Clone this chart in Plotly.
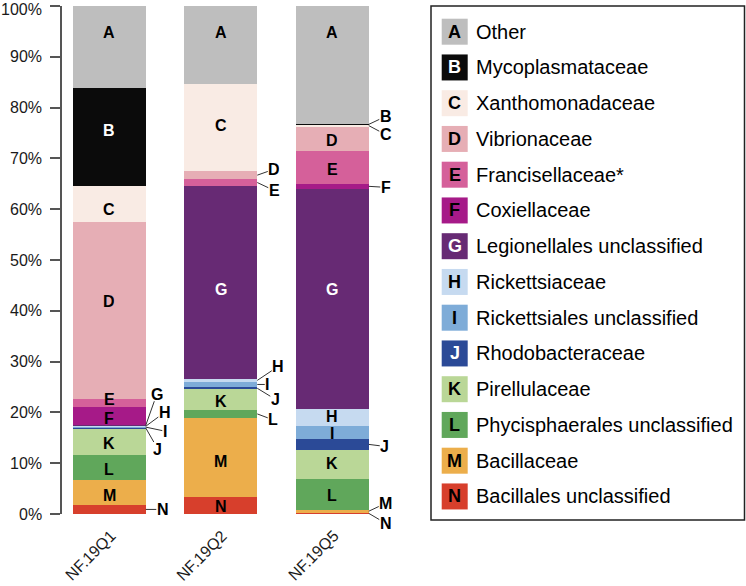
import plotly.graph_objects as go

# ---------------- data ----------------
samples = ["NF.19Q1", "NF.19Q2", "NF.19Q5"]
codes = ["A", "B", "C", "D", "E", "F", "G", "H", "I", "J", "K", "L", "M", "N"]
names = ["Other", "Mycoplasmataceae", "Xanthomonadaceae", "Vibrionaceae",
         "Francisellaceae*", "Coxiellaceae", "Legionellales unclassified",
         "Rickettsiaceae", "Rickettsiales unclassified", "Rhodobacteraceae",
         "Pirellulaceae", "Phycisphaerales unclassified", "Bacillaceae",
         "Bacillales unclassified"]
y_ticks = [0, 10, 20, 30, 40, 50, 60, 70, 80, 90, 100]
y_tick_labels = ["0%", "10%", "20%", "30%", "40%", "50%", "60%", "70%",
                 "80%", "90%", "100%"]

other = [16.1, 15.35, 23.2]
mycoplasmataceae = [19.3, 0.0, 0.2]
xanthomonadaceae = [7.2, 17.1, 0.3]
vibrionaceae = [34.7, 1.7, 4.9]
francisellaceae = [1.6, 1.2, 6.4]
coxiellaceae = [3.5, 0.0, 1.0]
legionellales_uncl = [0.25, 38.1, 43.3]
rickettsiaceae = [0.15, 0.5, 3.3]
rickettsiales_uncl = [0.2, 1.1, 2.6]
rhodobacteraceae = [0.15, 0.4, 2.2]
pirellulaceae = [5.25, 4.1, 5.65]
phycisphaerales_uncl = [5.0, 1.5, 6.1]
bacillaceae = [4.8, 15.6, 0.6]
bacillales_uncl = [1.8, 3.35, 0.25]

series = [other, mycoplasmataceae, xanthomonadaceae, vibrionaceae,
          francisellaceae, coxiellaceae, legionellales_uncl, rickettsiaceae,
          rickettsiales_uncl, rhodobacteraceae, pirellulaceae,
          phycisphaerales_uncl, bacillaceae, bacillales_uncl]

colors = ["#BEBEBE", "#0B0B0B", "#F9EBE4", "#E6AEB5", "#D5609A", "#A61A88",
          "#672A74", "#C6DAF0", "#7EACD8", "#2B4A97", "#BAD797", "#60A75B",
          "#ECAE4B", "#D73F2C"]
white_letter = {"B", "G", "J"}

# label positions inside bars (sample index, code, y in %)
inner_labels = [
    (0, "A", 94.7), (0, "B", 75.5), (0, "C", 59.9), (0, "D", 41.8),
    (0, "E", 22.5), (0, "F", 18.8), (0, "K", 13.8), (0, "L", 8.7), (0, "M", 3.6),
    (1, "A", 94.7), (1, "C", 76.4), (1, "G", 44.2), (1, "K", 22.2),
    (1, "M", 10.4), (1, "N", 1.5),
    (2, "A", 94.7), (2, "D", 73.5), (2, "E", 67.8), (2, "G", 44.2),
    (2, "H", 19.2), (2, "I", 15.9), (2, "K", 9.9), (2, "L", 3.7),
]
# callout labels (sample index, code, text offset x px, offset y px)
callouts = [
    (0, "G", 11, -31), (0, "H", 19, -14), (0, "I", 19, 4), (0, "J", 12, 21),
    (0, "N", 17, 0),
    (1, "D", 17, -6), (1, "E", 17, 8), (1, "H", 21, -14), (1, "I", 10, 0),
    (1, "J", 18, 11), (1, "L", 16, 6),
    (2, "B", 17, -8), (2, "C", 17, 9), (2, "F", 17, 1), (2, "J", 16, 2),
    (2, "M", 17, -8), (2, "N", 17, 10),
]

FONT = "Liberation Sans, Arial, Helvetica, sans-serif"
BAR_W = 0.655
xpos = list(range(len(samples)))

fig = go.Figure()
# stack from the bottom (N) to the top (A)
for k in reversed(range(len(codes))):
    fig.add_trace(go.Bar(
        x=xpos, y=series[k], name=names[k], width=BAR_W,
        marker=dict(color=colors[k], line=dict(width=0)),
        showlegend=False, hoverinfo="name+y"))

# cumulative bottoms for each segment
bottoms = {}
for s in xpos:
    acc = 0.0
    for k in reversed(range(len(codes))):
        bottoms[(s, codes[k])] = acc
        acc += series[k][s]

L_MARGIN, T_MARGIN, PW, PH = 62, 6, 684, 508


def px_x(px):
    return (px - L_MARGIN) / PW


def px_y(py):
    return (T_MARGIN + PH - py) / PH


annotations = []
# y tick labels (drawn as text so the top one stays inside the page)
for v, lab in zip(y_ticks, y_tick_labels):
    annotations.append(dict(
        x=px_x(42.5), y=v, xref="paper", yref="y", text=lab, showarrow=False,
        xanchor="right", yanchor="middle", borderpad=0,
        yshift=-3 if v == 100 else 0,
        font=dict(family=FONT, size=16, color="#1a1a1a")))

for s, c, yv in inner_labels:
    annotations.append(dict(
        x=s, y=yv, xref="x", yref="y", text="<b>%s</b>" % c, showarrow=False,
        height=13, valign="middle", borderpad=0,
        font=dict(family=FONT, size=16,
                  color="white" if c in ("B", "G") else "black")))

for s, c, dx, dy in callouts:
    k = codes.index(c)
    mid = bottoms[(s, c)] + series[k][s] / 2.0
    annotations.append(dict(
        x=s + BAR_W / 2, y=mid, xref="x", yref="y", text="<b>%s</b>" % c,
        showarrow=True, arrowhead=0, arrowwidth=1, arrowcolor="#333333",
        ax=dx, ay=dy, standoff=0, borderpad=0, height=13, valign="middle",
        font=dict(family=FONT, size=16, color="black")))

# sample names, rotated under the bars
for s, name in zip(xpos, samples):
    annotations.append(dict(
        x=s, y=px_y(555.5), xref="x", yref="paper", text=name,
        showarrow=False, textangle=-45, xanchor="center", yanchor="middle",
        xshift=-19, font=dict(family=FONT, size=16, color="#1a1a1a")))

# ---------------- legend (drawn manually) ----------------
shapes = [dict(type="rect", xref="paper", yref="paper",
               x0=px_x(431), x1=px_x(744.5), y0=px_y(520), y1=px_y(6),
               line=dict(color="#222222", width=1.5), fillcolor="rgba(0,0,0,0)")]
row0, rowstep, sw = 31.7, 35.75, 26
for i, (c, n) in enumerate(zip(codes, names)):
    cy = row0 + rowstep * i
    shapes.append(dict(type="rect", xref="paper", yref="paper",
                       x0=px_x(441.7), x1=px_x(441.7 + sw),
                       y0=px_y(cy + sw / 2), y1=px_y(cy - sw / 2),
                       line=dict(width=0), fillcolor=colors[i]))
    annotations.append(dict(
        x=px_x(441.7 + sw / 2), y=px_y(cy), xref="paper", yref="paper",
        text="<b>%s</b>" % c, showarrow=False, xanchor="center", yanchor="middle",
        font=dict(family=FONT, size=18,
                  color="white" if c in white_letter else "black")))
    annotations.append(dict(
        x=px_x(474), y=px_y(cy), xref="paper", yref="paper", text=n,
        showarrow=False, xanchor="left", yanchor="middle",
        font=dict(family=FONT, size=20, color="black")))

fig.update_layout(
    width=746, height=586, template="none",
    paper_bgcolor="white", plot_bgcolor="white",
    margin=dict(l=L_MARGIN, r=0, t=T_MARGIN, b=586 - T_MARGIN - PH, pad=0),
    barmode="stack", bargap=0,
    font=dict(family=FONT, size=16, color="#1a1a1a"),
    xaxis=dict(domain=[0, 326 / 684], range=[-0.424, 2.5],
               tickmode="array", tickvals=xpos, ticktext=["", "", ""],
               showticklabels=False, showline=False, ticks="", showgrid=False,
               zeroline=False, automargin=False),
    yaxis=dict(range=[0, 100], tickmode="array", tickvals=y_ticks,
               showticklabels=False, ticks="outside", ticklen=10,
               tickwidth=1.5, tickcolor="#555555", showline=True,
               linecolor="#555555", linewidth=1.5, showgrid=False,
               zeroline=False, automargin=False),
    annotations=annotations, shapes=shapes,
)

fig.write_html("out.html",
               config={"displayModeBar": False},
               post_script="document.body.style.margin='0';"
                           "document.body.style.overflow='hidden';")
